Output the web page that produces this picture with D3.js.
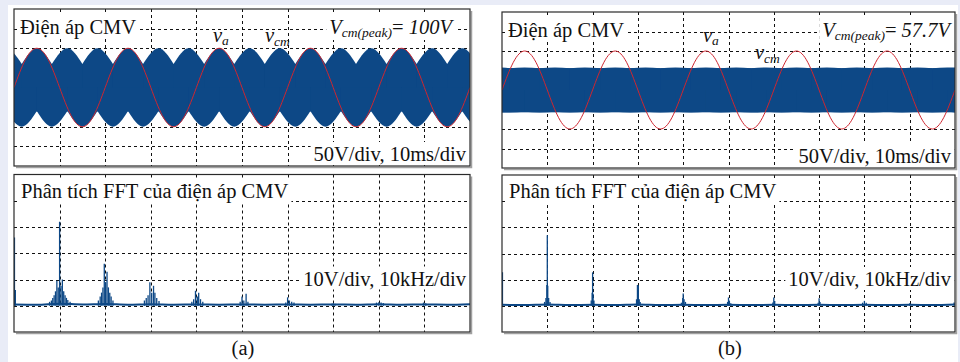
<!DOCTYPE html>
<html>
<head>
<meta charset="utf-8">
<script src="https://cdn.jsdelivr.net/npm/d3@7"></script>
<style>
html, body { margin: 0; padding: 0; background: #e9ecf7; }
svg { display: block; }
</style>
</head>
<body>
<script>
// ---- data ----
// phase voltage va, one sample every 2.5 ms (0..100 ms, 50 Hz)
var vaStepMs = 2.5;
var vaWave = [
  0, 71, 100, 71, 0, -71, -100, -71,
  0, 71, 100, 71, 0, -71, -100, -71,
  0, 71, 100, 71, 0, -71, -100, -71,
  0, 71, 100, 71, 0, -71, -100, -71,
  0, 71, 100, 71, 0, -71, -100, -71,
  0
];

// CMV envelope points (ms) - humps and notches of the PWM band
var cmvTimeMs = [-5, -1.7, 1.7, 5, 8.3, 11.7, 15, 18.3, 21.7, 25, 28.3, 31.7, 35, 38.3,
  41.7, 45, 48.3, 51.7, 55, 58.3, 61.7, 65, 68.3, 71.7, 75, 78.3, 81.7, 85, 88.3,
  91.7, 95, 98.3, 101.7, 105];
var cmvATop = [60, 100, 60, 100, 60, 100, 60, 100, 60, 100, 60, 100, 60, 100, 60, 100, 60,
  100, 60, 100, 60, 100, 60, 100, 60, 100, 60, 100, 60, 100, 60, 100, 60, 100];
var cmvABottom = [-100, -60, -100, -60, -100, -60, -100, -60, -100, -60, -100, -60, -100,
  -60, -100, -60, -100, -60, -100, -60, -100, -60, -100, -60, -100, -60, -100, -60,
  -100, -60, -100, -60, -100, -60];
var cmvBTop = [56, 58, 56, 58, 56, 58, 56, 58, 56, 58, 56, 58, 56, 58, 56, 58, 56,
  58, 56, 58, 56, 58, 56, 58, 56, 58, 56, 58, 56, 58, 56, 58, 56, 58];
var cmvBBottom = [-58, -56, -58, -56, -58, -56, -58, -56, -58, -56, -58, -56, -58, -56,
  -58, -56, -58, -56, -58, -56, -58, -56, -58, -56, -58, -56, -58, -56, -58, -56,
  -58, -56, -58, -56];

// FFT spectral lines (kHz, V)
var fftAFreq = [0.1, 0.3,
  7.8, 8.2, 8.5, 8.8, 9.1, 9.4, 9.7, 10.0, 10.3, 10.6, 10.9, 11.2, 11.5, 11.8, 12.3,
  18.5, 18.9, 19.2, 19.5, 19.8, 20.1, 20.4, 20.7, 21.0, 21.3, 21.7,
  28.6, 29.0, 29.4, 29.8, 30.2, 30.6, 30.9, 31.3, 31.8,
  39.0, 39.4, 39.8, 40.2, 40.5, 40.9, 41.4,
  49.6, 50.0, 50.4, 50.9, 51.3,
  59.6, 60.0, 60.4, 60.9, 61.4,
  69.7, 70.0, 70.4,
  79.5, 80.0, 80.5, 81.0,
  89.8, 90.3];
var fftAAmp = [26, 6,
  1.5, 2, 3, 4, 5.5, 9.5, 7, 32, 7.5, 10, 5.5, 4, 3, 2.2, 1.5,
  2, 3.5, 5, 7, 16, 9, 13, 7, 5, 3.5, 2,
  2, 3, 4, 9, 5, 7.6, 5, 3, 1.8,
  1.5, 2.5, 5.7, 3.5, 5, 2.5, 1.5,
  1.5, 3.5, 2, 4.6, 1.5,
  1.2, 3.2, 2, 1.5, 1.2,
  0.8, 1.0, 0.8,
  1.2, 1.3, 1.2, 1.0,
  1.2, 1.0];
var fftBFreq = [0.1,
  9.4, 9.7, 9.9, 10.0, 10.1, 10.3, 10.6,
  19.7, 19.9, 20.0, 20.1, 20.3,
  29.7, 29.9, 30.0, 30.1, 30.3, 30.5,
  39.6, 39.9, 40.0, 40.2, 40.5,
  49.8, 50.0, 50.2, 50.5,
  59.8, 60.0, 60.2,
  69.8, 70.0, 70.2,
  79.6, 80.0, 80.4,
  90.0, 99.8];
var fftBAmp = [12.8,
  1.5, 3, 8, 27, 7.7, 3, 1.5,
  2, 5, 12.8, 4.5, 2,
  2.5, 8, 7.5, 7.8, 2.5, 1.5,
  1.2, 3, 4.7, 2.5, 1.5,
  1.5, 3.2, 2, 1,
  1.3, 3.2, 1.8,
  1.2, 2.9, 1.5,
  1.2, 1.9, 1.2,
  1.0, 1.3];
// noise floor every 5 kHz
var fftFloorFreq = [0, 5, 10, 15, 20, 25, 30, 35, 40, 45, 50, 55, 60, 65, 70, 75, 80, 85, 90, 95, 100];
var fftAFloor = [0.5, 0.4, 0.8, 0.5, 0.7, 0.4, 0.6, 0.4, 0.5, 0.4, 0.5, 0.4, 0.5, 0.4, 0.5, 0.4, 0.6, 0.4, 0.5, 0.4, 0.6];
var fftBFloor = [0.4, 0.3, 0.5, 0.3, 0.4, 0.3, 0.5, 0.3, 0.4, 0.3, 0.4, 0.3, 0.4, 0.3, 0.4, 0.3, 0.4, 0.3, 0.4, 0.3, 0.5];

// axis divisions
var timeTicks = [0, 10, 20, 30, 40, 50, 60, 70, 80, 90, 100];
var voltTicks = [-200, -150, -100, -50, 0, 50, 100, 150, 200];
var freqTicks = [0, 10, 20, 30, 40, 50, 60, 70, 80, 90, 100];
var fftVoltTicks = [-10, 0, 10, 20, 30, 40, 50];

var blue = "#0d4886";
var red = "#cf2630";
var font = "'Liberation Serif', 'Times New Roman', serif";
var fs = 20.5;

var svg = d3.select("body").append("svg")
  .attr("width", 960)
  .attr("height", 362);

svg.append("rect").attr("x", 8).attr("y", 5).attr("width", 950).attr("height", 357).attr("fill", "#fff");

var clipId = 0;

function panel(x0, x1, y0, y1, xTicks, yTicks) {
  var xs = d3.scaleLinear().domain([xTicks[0], xTicks[xTicks.length - 1]]).range([x0, x1]);
  var ys = d3.scaleLinear().domain([yTicks[0], yTicks[yTicks.length - 1]]).range([y1, y0]);
  var g = svg.append("g");
  var id = "clip" + (clipId++);
  g.append("clipPath").attr("id", id).append("rect")
    .attr("x", x0).attr("y", y0).attr("width", x1 - x0).attr("height", y1 - y0);

  // shadow + frame
  g.append("path")
    .attr("d", "M" + (x1 + 1.5) + "," + (y0 + 2) + "V" + (y1 + 1.5) + "H" + (x0 + 2))
    .attr("fill", "none").attr("stroke", "#a0a0a0").attr("stroke-width", 1.5);

  var grid = g.append("g").attr("stroke", "#111").attr("stroke-width", 1).attr("stroke-dasharray", "3,3");
  grid.selectAll(".vx").data(xTicks.slice(1, -1)).enter().append("line")
    .attr("x1", d => Math.round(xs(d)) + 0.5).attr("x2", d => Math.round(xs(d)) + 0.5)
    .attr("y1", y0).attr("y2", y1);
  grid.selectAll(".hy").data(yTicks.slice(1, -1)).enter().append("line")
    .attr("y1", d => Math.round(ys(d)) + 0.5).attr("y2", d => Math.round(ys(d)) + 0.5)
    .attr("x1", x0).attr("x2", x1);

  var plot = g.append("g").attr("clip-path", "url(#" + id + ")");
  var top = g.append("g");
  g.append("rect").attr("x", x0).attr("y", y0).attr("width", x1 - x0).attr("height", y1 - y0)
    .attr("fill", "none").attr("stroke", "#2a2a2a").attr("stroke-width", 1.2);
  return { xs: xs, ys: ys, plot: plot, top: top };
}

// humps between neighbouring notches, each filled from 0 to the envelope
function drawBand(p, times, vals) {
  var area = d3.area()
    .x(d => p.xs(d[0]))
    .y0(p.ys(0))
    .y1(d => p.ys(d[1]))
    .curve(d3.curveMonotoneX);
  var notches = [];
  for (var i = 0; i < vals.length; i++) {
    var prev = i > 0 ? Math.abs(vals[i - 1]) : Infinity;
    var next = i < vals.length - 1 ? Math.abs(vals[i + 1]) : Infinity;
    if (Math.abs(vals[i]) <= prev && Math.abs(vals[i]) <= next) notches.push(i);
  }
  if (notches[0] !== 0) notches.unshift(0);
  if (notches[notches.length - 1] !== vals.length - 1) notches.push(vals.length - 1);
  var low = d3.min(vals, v => Math.abs(v));
  // solid core so the hump joints leave no seams
  p.plot.append("rect")
    .attr("x", p.xs(times[0])).attr("width", p.xs(times[times.length - 1]) - p.xs(times[0]))
    .attr("y", Math.min(p.ys(0), p.ys(vals[0] > 0 ? low : -low)))
    .attr("height", Math.abs(p.ys(low) - p.ys(0)) + 0.5)
    .attr("fill", blue);
  for (var k = 0; k < notches.length - 1; k++) {
    var seg = [];
    for (var j = notches[k]; j <= notches[k + 1]; j++) seg.push([times[j], vals[j]]);
    p.plot.append("path").attr("d", area(seg)).attr("fill", blue);
  }
}

function drawVa(p) {
  var line = d3.line()
    .x((d, i) => p.xs(i * vaStepMs))
    .y(d => p.ys(d))
    .curve(d3.curveNatural);
  p.plot.append("path").attr("d", line(vaWave))
    .attr("fill", "none").attr("stroke", red).attr("stroke-width", 1);
}

function drawFft(p, freq, amp, floorVals) {
  var floor = d3.line()
    .x((d, i) => p.xs(fftFloorFreq[i]))
    .y(d => p.ys(d))
    .curve(d3.curveMonotoneX);
  p.plot.append("path").attr("d", floor(floorVals))
    .attr("fill", "none").attr("stroke", blue).attr("stroke-width", 2);
  p.plot.selectAll(".ln").data(freq).enter().append("line")
    .attr("x1", d => p.xs(d)).attr("x2", d => p.xs(d))
    .attr("y1", p.ys(0))
    .attr("y2", (d, i) => p.ys(amp[i]))
    .attr("stroke", blue).attr("stroke-width", 1.3);
}

// text with white box behind it (hides the grid)
function label(p, x, y, parts, anchor, boxed) {
  var g = p.top.append("g");
  var box = g.append("rect").attr("fill", "#fff");
  var t = g.append("text").attr("x", x).attr("y", y)
    .attr("font-family", font).attr("font-size", fs).attr("fill", "#111")
    .attr("text-anchor", anchor || "start");
  parts.forEach(function (pt) {
    var s = t.append("tspan").text(pt.t);
    if (pt.italic) s.attr("font-style", "italic");
    if (pt.size) s.attr("font-size", pt.size);
    if (pt.dy) s.attr("dy", pt.dy);
  });
  if (boxed) {
    var b = t.node().getBBox();
    box.attr("x", b.x - 3).attr("y", b.y - 1).attr("width", b.width + 6).attr("height", b.height + 1);
  } else {
    box.remove();
  }
}

function scope(x0, x1, y0, y1, top, bottom, peakText, peakEnd) {
  var p = panel(x0, x1, y0, y1, timeTicks, voltTicks);
  drawBand(p, cmvTimeMs, top);
  drawBand(p, cmvTimeMs, bottom);
  drawVa(p);
  label(p, x0 + 6, y0 + 25, [{ t: "Điện áp CMV" }], "start", true);
  label(p, peakEnd, y0 + 25, [{ t: "V", italic: true }, { t: "cm(peak)", italic: true, size: 13.5, dy: 3 },
    { t: "= ", dy: -3 }, { t: peakText, italic: true }], "end", true);
  label(p, x1 - 4, y1 - 5, [{ t: "50V/div, 10ms/div" }], "end", true);
  return p;
}

function spectrum(x0, x1, y0, y1, freq, amp, floorVals) {
  var p = panel(x0, x1, y0, y1, freqTicks, fftVoltTicks);
  drawFft(p, freq, amp, floorVals);
  label(p, x0 + 7, y0 + 23, [{ t: "Phân tích FFT của điện áp CMV" }], "start", true);
  label(p, x1 - 4, y0 + 111, [{ t: "10V/div, 10kHz/div" }], "end", true);
  return p;
}

var sa = scope(14, 470, 9, 166, cmvATop, cmvABottom, "100V", 452);
label(sa, 213, 42, [{ t: "v", italic: true }, { t: "a", italic: true, size: 13.5, dy: 3 }]);
label(sa, 265, 42, [{ t: "v", italic: true }, { t: "cm", italic: true, size: 13.5, dy: 4 }]);
spectrum(14, 470, 174.5, 332, fftAFreq, fftAAmp, fftAFloor);

var sb = scope(502, 955, 12, 168, cmvBTop, cmvBBottom, "57.7V", 950);
label(sb, 703, 42, [{ t: "v", italic: true }, { t: "a", italic: true, size: 13.5, dy: 3 }]);
label(sb, 755, 59, [{ t: "v", italic: true }, { t: "cm", italic: true, size: 13.5, dy: 4 }]);
spectrum(502, 955, 175, 332, fftBFreq, fftBAmp, fftBFloor);

svg.append("text").attr("x", 243).attr("y", 355).attr("text-anchor", "middle")
  .attr("font-family", font).attr("font-size", fs).attr("fill", "#111").text("(a)");
svg.append("text").attr("x", 730).attr("y", 355).attr("text-anchor", "middle")
  .attr("font-family", font).attr("font-size", fs).attr("fill", "#111").text("(b)");
</script>
</body>
</html>
